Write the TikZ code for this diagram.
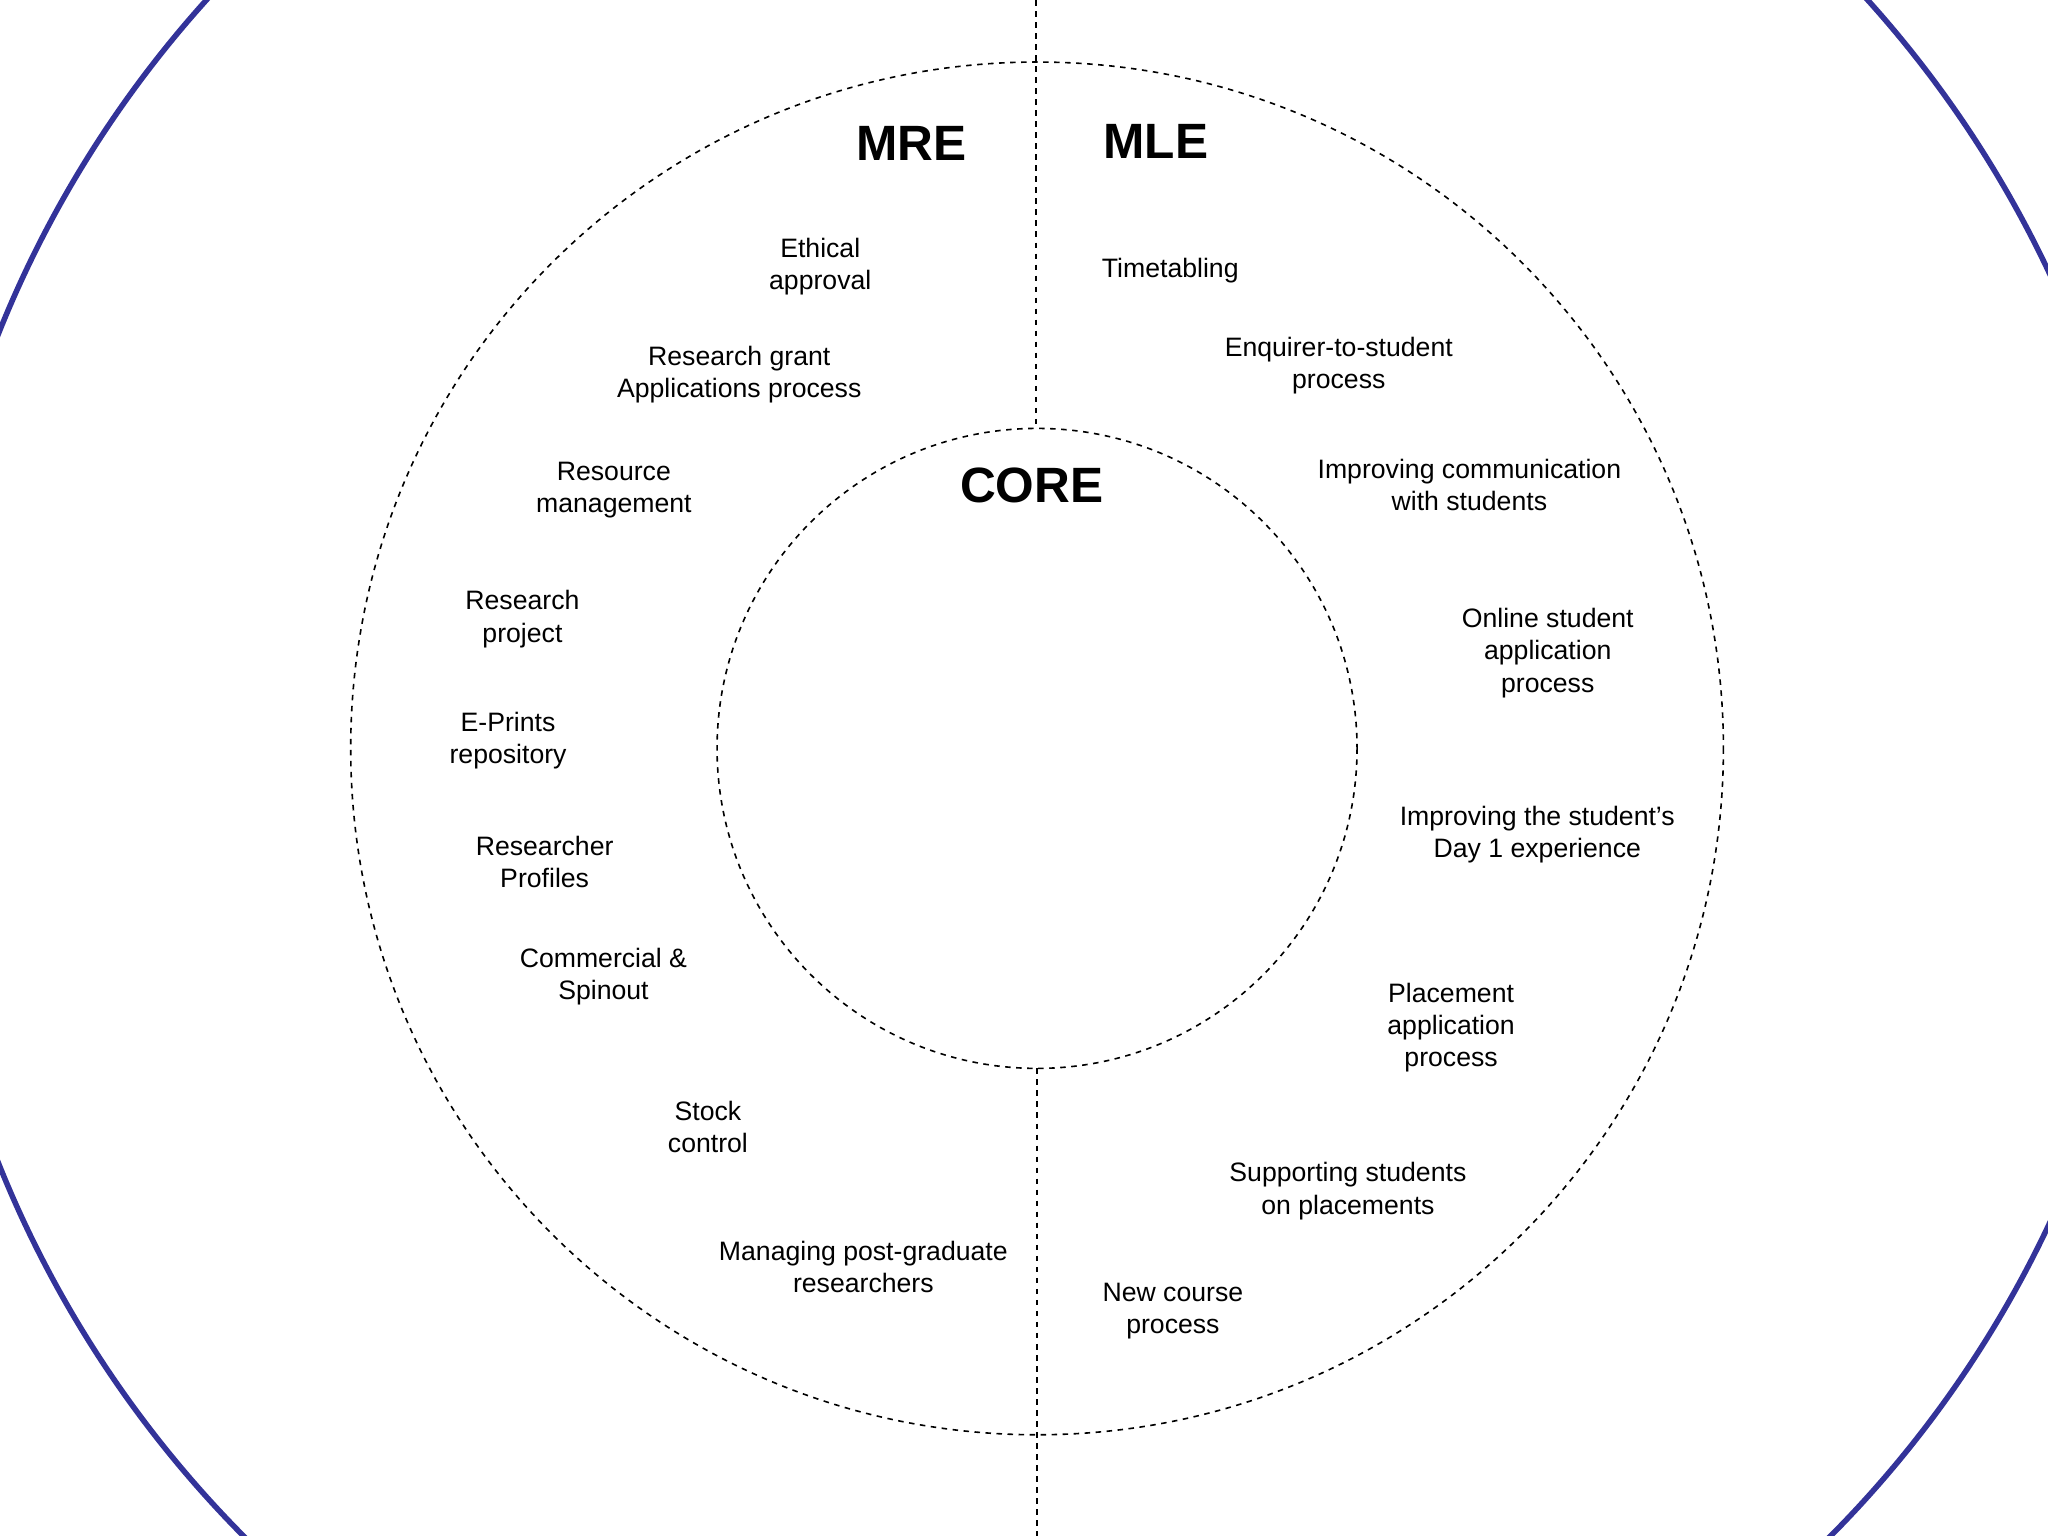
\documentclass[tikz,border=0pt]{standalone}
\usepackage{fontspec}
\setmainfont{Liberation Sans}
\definecolor{ringblue}{HTML}{333399}
\begin{document}
\begin{tikzpicture}[x=0.01cm,y=-0.01cm,
  lbl/.style={align=center,font=\fontsize{5.8pt}{7pt}\selectfont},
  ttl/.style={font=\fontsize{10.8pt}{12pt}\selectfont\bfseries},
  dline/.style={dashed,line width=0.35pt,dash pattern=on 1.2pt off 1.2pt}]
\useasboundingbox (0,0) rectangle (1568,1176);
\clip (0,0) rectangle (1568,1176);
\coordinate (c) at (794,573);
\draw[ringblue,line width=1.2pt] (c) circle (856);
\draw[dline] (c) circle (525.5);
\draw[dline] (c) circle (245);
\coordinate (t0) at (793,0); \coordinate (t1) at (793,328);
\coordinate (b0) at (794,818); \coordinate (b1) at (794,1176);
\draw[dline] (t0) -- (t1);
\draw[dline] (b0) -- (b1);
\node[ttl] (mre) at (698,110) {MRE};
\node[ttl] (mle) at (885,108) {MLE};
\node[ttl] (core) at (790,372) {CORE};
\node[lbl] (a1) at (628,204) {Ethical\\approval};
\node[lbl] (a2) at (566,287) {Research grant\\Applications process};
\node[lbl] (a3) at (470,375) {Resource\\management};
\node[lbl] (a4) at (400,474) {Research\\project};
\node[lbl] (a5) at (389,567) {E-Prints\\repository};
\node[lbl] (a6) at (417,660) {Researcher\\Profiles};
\node[lbl] (a7) at (462,748) {Commercial \&\\Spinout};
\node[lbl] (a8) at (542,863) {Stock\\control};
\node[lbl] (a9) at (661,970) {Managing post-graduate\\researchers};
\node[lbl] (b1n) at (896,207) {Timetabling};
\node[lbl] (b2) at (1025,280) {Enquirer-to-student\\process};
\node[lbl] (b3) at (1125,371) {Improving communication\\with students};
\node[lbl] (b4) at (1185,500) {Online student\\application\\process};
\node[lbl] (b5) at (1177,639) {Improving the student’s\\Day 1 experience};
\node[lbl] (b6) at (1111,787) {Placement\\application\\process};
\node[lbl] (b7) at (1032,912) {Supporting students\\on placements};
\node[lbl] (b8) at (898,1004) {New course\\process};
\end{tikzpicture}
\end{document}
